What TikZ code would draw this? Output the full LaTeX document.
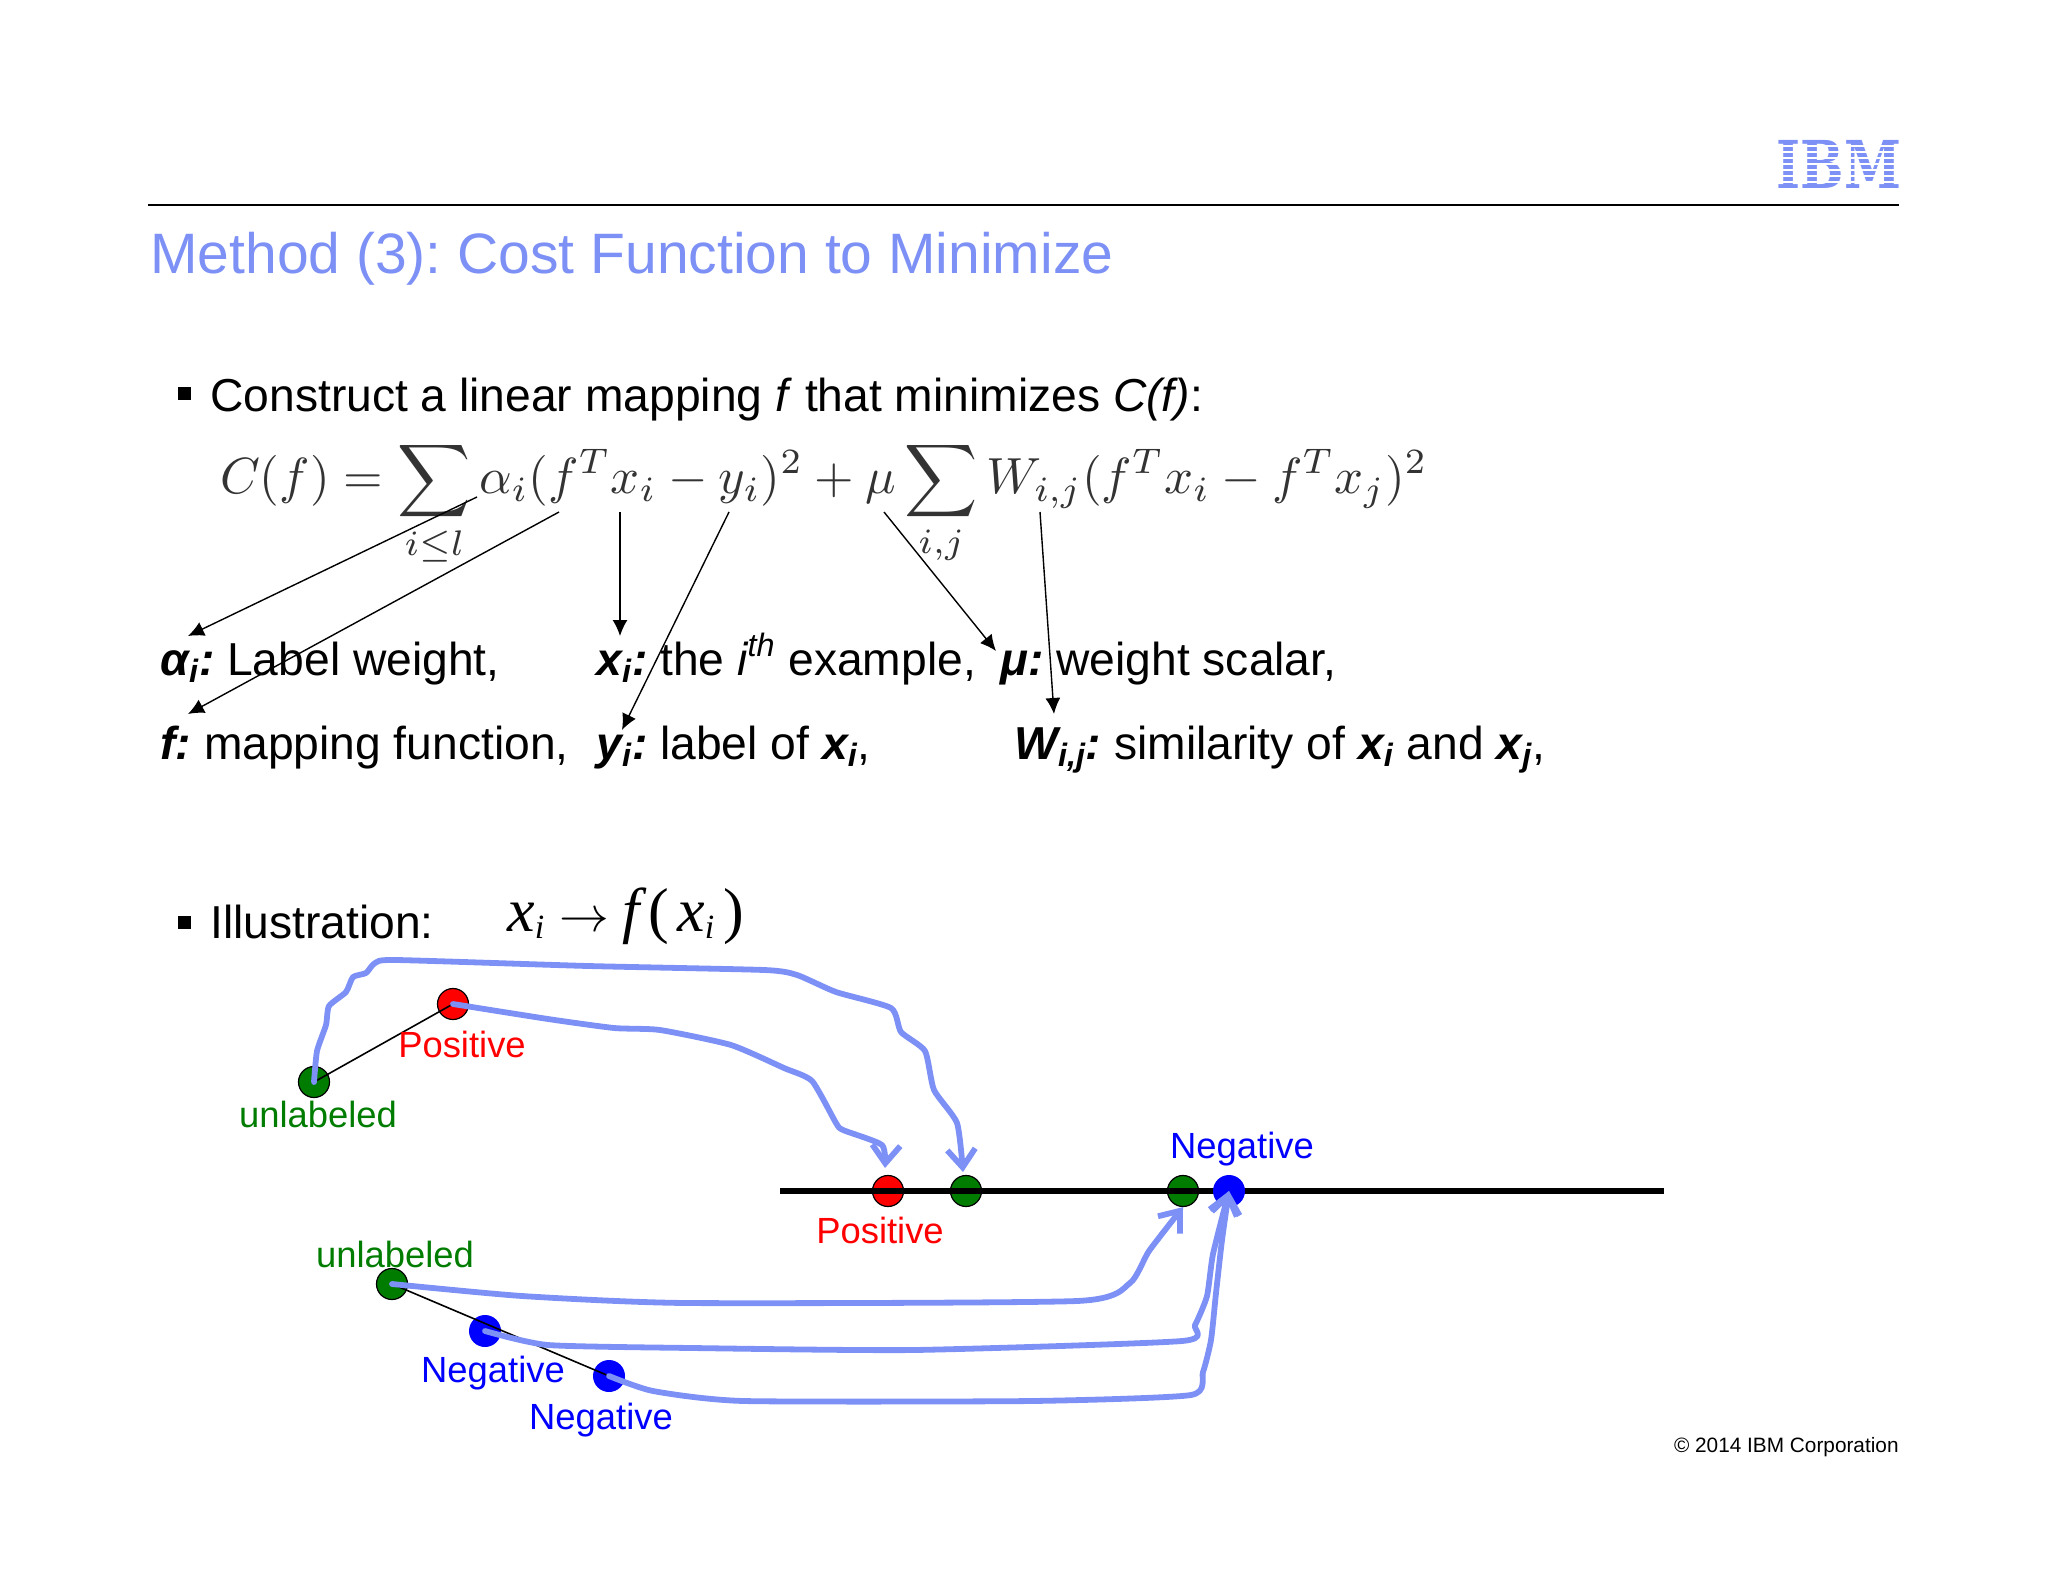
\documentclass[tikz,border=0pt]{standalone}
\usepackage{fontspec}
\setmainfont{Liberation Sans}
\newfontfamily\timesfont{Liberation Serif}
\newfontfamily\logofont{DejaVu Serif}
\usetikzlibrary{arrows,arrows.meta}
\definecolor{ibmblue}{RGB}{124,144,245}
\definecolor{dotgreen}{RGB}{0,125,0}
\frenchspacing
\newcommand{\bi}[1]{\textbf{\textit{#1}}}
\newcommand{\tvar}[1]{\mbox{\timesfont\itshape #1}}
\newcommand{\tpar}[1]{\mbox{\timesfont #1}}
\newcommand{\tsub}[1]{\mbox{\fontsize{17}{17}\selectfont\timesfont\itshape #1}}
\tikzset{
  titletxt/.style={anchor=base west,inner sep=0pt,text=ibmblue,font=\fontsize{28.5}{34}\selectfont},
  bodytxt/.style={anchor=base west,inner sep=0pt,font=\fontsize{23.1}{28}\selectfont},
  dottxt/.style={anchor=base,inner sep=0pt,font=\fontsize{18.2}{23}\selectfont},
  gdot/.style={circle,draw=black,line width=0.6pt,fill=dotgreen,minimum size=15.5pt,inner sep=0pt},
  rdot/.style={circle,draw=black,line width=0.6pt,fill=red,minimum size=15.5pt,inner sep=0pt},
  bdot/.style={circle,fill=blue,minimum size=16pt,inner sep=0pt},
  pointer/.style={line width=0.7pt,-{Latex[length=8pt,width=7.5pt]}},
  sketch/.style={draw=ibmblue,line width=2.9pt,line cap=round,line join=round,-{Straight Barb[length=9pt,width=14pt,line width=2.9pt]}}
}
\begin{document}
\begin{tikzpicture}[x=0.5pt,y=-0.5pt]
\useasboundingbox (0,0) rectangle (2048,1582);

% header
\coordinate (r1) at (148,205);
\coordinate (r2) at (1899,205);
\draw [line width=1pt] (r1) -- (r2);
\node (logo) at (1839,164) [inner sep=0pt,text=ibmblue,xscale=0.78,transform shape,font=\fontsize{33}{33}\logofont\bfseries] {IBM};
\foreach \y in {146,152,158,164,170,176,182}
  \fill [white] (1770,\y-1) rectangle (1905,\y+1);
\node (title) at (150,274) [titletxt] {Method (3): Cost Function to Minimize};

% cost function
\node (b1) at (184,394) [fill=black,minimum size=6.5pt,inner sep=0pt] {};
\node (t1) at (210,412) [bodytxt] {Construct a linear mapping \textit{f} that minimizes \textit{C(f)}:};
\node (cost) at (219,494) [anchor=base west,inner sep=0pt,scale=2.54,transform shape,text=black!80] {$\displaystyle C(f)=\sum_{i\leq l}\alpha_i(f^Tx_i-y_i)^2+\mu\sum_{i,j}W_{i,j}(f^Tx_i-f^Tx_j)^2$};

\node (la) at (160,675) [bodytxt] {\bi{α\textsubscript{i}:} Label weight,};
\node (lf) at (160,759) [bodytxt] {\bi{f:} mapping function,};
\node (lx) at (596,675) [bodytxt] {\bi{x\textsubscript{i}:} the \textit{i\textsuperscript{th}} example,};
\node (ly) at (596,759) [bodytxt] {\bi{y\textsubscript{i}:} label of \bi{x\textsubscript{i}},};
\node (lm) at (1000,675) [bodytxt] {\bi{μ:} weight scalar,};
\node (lw) at (1014,759) [bodytxt] {\bi{W\textsubscript{i,j}:} similarity of \bi{x\textsubscript{i}} and \bi{x\textsubscript{j}},};

\coordinate (a1) at (477,497);
\coordinate (a2) at (188,636);
\coordinate (f1) at (559,512);
\coordinate (f2) at (188,714);
\coordinate (x1) at (620,512);
\coordinate (x2) at (620,636);
\coordinate (y1) at (729,512);
\coordinate (y2) at (622,730);
\coordinate (m1) at (884,512);
\coordinate (m2) at (996,651);
\coordinate (w1) at (1040,512);
\coordinate (w2) at (1054,714);
\draw [pointer] (a1) -- (a2);
\draw [pointer] (f1) -- (f2);
\draw [pointer] (x1) -- (x2);
\draw [pointer] (y1) -- (y2);
\draw [pointer] (m1) -- (m2);
\draw [pointer] (w1) -- (w2);

% illustration
\node (b2) at (184,922) [fill=black,minimum size=6.5pt,inner sep=0pt] {};
\node (t2) at (210,938) [bodytxt] {Illustration:};
\node (map) at (507,931) [anchor=base west,inner sep=0pt,font=\fontsize{31}{36}\selectfont] {$\tvar{x}_{\tsub{i}}\rightarrow\tvar{f}\,\tpar{(}\,\tvar{x}_{\tsub{i}}\,\tpar{)}$};

\coordinate (l1) at (780,1191);
\coordinate (l2) at (1664,1191);

\node (v1) at (314,1082) [gdot] {};
\node (v2) at (453,1004) [rdot] {};
\node (v3) at (392,1284) [gdot] {};
\node (v4) at (485,1331) [bdot] {};
\node (v5) at (609,1376) [bdot] {};
\node (p1) at (888,1191) [rdot] {};
\node (p2) at (966,1191) [gdot] {};
\node (p3) at (1183,1191) [gdot] {};
\draw [line width=3pt] (l1) -- (l2);
\node (p4) at (1229,1191) [bdot] {};

\draw [line width=0.8pt] (v1.center) -- (v2.center);
\draw [line width=0.8pt] (v3.center) -- (v5.center);

\node (s1) at (462,1057) [dottxt,text=red] {Positive};
\node (s2) at (318,1127) [dottxt,text=dotgreen] {unlabeled};
\node (s3) at (880,1243) [dottxt,text=red] {Positive};
\node (s4) at (1242,1158) [dottxt,text=blue] {Negative};
\node (s5) at (395,1267) [dottxt,text=dotgreen] {unlabeled};
\node (s6) at (493,1382) [dottxt,text=blue] {Negative};
\node (s7) at (601,1429) [dottxt,text=blue] {Negative};

\draw [sketch] plot [smooth,tension=0.35] coordinates {(v1.center) (317,1051) (326,1025) (329,1006) (346,992) (353,977) (366,973) (375,963) (396,960) (588,966) (764,970) (797,975) (836,992) (891,1008) (901,1032) (925,1051) (934,1090) (957,1123) (963,1172)};
\draw [sketch] plot [smooth,tension=0.35] coordinates {(v2.center) (548,1019) (614,1028) (660,1030) (731,1045) (784,1068) (812,1081) (836,1123) (843,1130) (882,1145) (885,1168)};
\draw [sketch] plot [smooth,tension=0.35] coordinates {(v3.center) (522,1296) (686,1303) (1077,1301) (1130,1283) (1149,1251) (p3.south)};
\draw [sketch] plot [smooth,tension=0.35] coordinates {(v4.center) (548,1345) (692,1348) (914,1350) (1182,1341) (1195,1325) (1207,1296) (1213,1254) (p4.center)};
\draw [sketch] plot [smooth,tension=0.35] coordinates {(v5.center) (653,1391) (744,1401) (1032,1401) (1191,1395) (1203,1372) (1211,1340) (1216,1293) (1222,1240) (p4.center)};

% footer
\node (copy) at (1899,1452) [anchor=base east,inner sep=0pt,font=\fontsize{10.4}{13}\selectfont] {© 2014 IBM Corporation};

\end{tikzpicture}
\end{document}
